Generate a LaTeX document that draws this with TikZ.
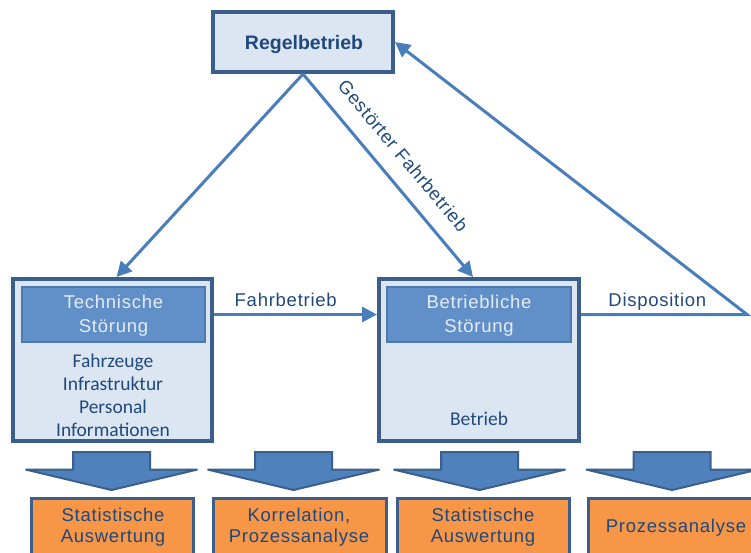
\documentclass[tikz,border=0pt]{standalone}
\usepackage{fontspec}
\setmainfont{Liberation Sans}
\newfontfamily\spacedfont[LetterSpace=4]{Liberation Sans}
\newfontfamily\listfont{Carlito}
\usetikzlibrary{arrows.meta}

\definecolor{panel}{HTML}{DCE6F2}
\definecolor{frame}{HTML}{3A5F8C}
\definecolor{ink}{HTML}{1F497D}
\definecolor{innerfill}{HTML}{6190C8}
\definecolor{innerframe}{HTML}{4D79AE}
\definecolor{innertext}{HTML}{E4ECF6}
\definecolor{flow}{HTML}{4A7EBB}
\definecolor{bigarrow}{HTML}{4F81BD}
\definecolor{result}{HTML}{F79646}

\begin{document}
\begin{tikzpicture}[x=1pt,y=-1pt,
  outerbox/.style={draw=frame, line width=4pt, fill=panel, inner sep=0pt},
  innerbox/.style={draw=innerframe, line width=2pt, fill=innerfill, inner sep=0pt},
  resultbox/.style={draw=frame, line width=3pt, fill=result, inner sep=0pt},
  flowline/.style={draw=flow, line width=3pt, line join=miter,
    -{Triangle[length=15pt,width=15pt]}},
  blockarrow/.style={fill=bigarrow, draw=frame, line width=2pt,
    line join=miter, miter limit=2.5},
  label/.style={text=ink, inner sep=0pt, font=\spacedfont\fontsize{18.5}{24}\selectfont},
  headtext/.style={text=innertext, inner sep=0pt, align=center,
    font=\spacedfont\fontsize{18.5}{24}\selectfont},
  listtext/.style={text=ink, inner sep=0pt, align=center,
    font=\listfont\fontsize{19.5}{23}\selectfont},
  resulttext/.style={text=ink, inner sep=0pt, align=center,
    font=\spacedfont\fontsize{18.5}{21}\selectfont}
]
\useasboundingbox (0,0) rectangle (751,552);
\clip (0,0) rectangle (751,552);

% top state
\node[outerbox, minimum width=180pt, minimum height=60pt] (regel) at (303,42) {};
\node[text=ink, inner sep=0pt, anchor=base, font=\bfseries\fontsize{19.5}{22}\selectfont]
  (regeltext) at (304,49.5) {Regelbetrieb};

% technical disturbance
\node[outerbox, minimum width=199pt, minimum height=162pt] (tech) at (112.5,360) {};
\node[innerbox, minimum width=183pt, minimum height=55pt] (techhead) at (113.5,314.5) {};
\node[headtext] (techheadtext) at (113.5,316) {Technische\\Störung};
\node[listtext] (techlist) at (113,395) {Fahrzeuge\\Infrastruktur\\Personal\\Informationen};

% operational disturbance
\node[outerbox, minimum width=200pt, minimum height=162pt] (betr) at (479,360) {};
\node[innerbox, minimum width=184pt, minimum height=55pt] (betrhead) at (479,314.5) {};
\node[headtext] (betrheadtext) at (479,316) {Betriebliche\\Störung};
\node[listtext, anchor=base] (betrlist) at (479,425) {Betrieb};

% transitions
\draw[flowline] (regel.south) -- ([xshift=4pt]tech.north);
\draw[flowline] (regel.south) -- ([xshift=-6pt]betr.north)
  node[label, pos=0.48, sloped, above=16pt] (gestoert) {Gestörter Fahrbetrieb};
\draw[flowline] (techhead.east -| tech.east) -- (betrhead.west -| betr.west)
  node[label, pos=0.44, anchor=base, yshift=8pt] (fahr) {Fahrbetrieb};
\coordinate (corner) at (747,314.5);
\draw[flowline] (betrhead.east -| betr.east) -- (corner)
  node[label, pos=0.46, anchor=base, yshift=8pt] (dispo) {Disposition}
  -- (regel.east);

% block arrows towards the analyses
\foreach \cx in {111.5,293.5,479.5,672}{
  \filldraw[blockarrow]
    (\cx-38.5,452) -- (\cx+38.5,452) -- (\cx+38.5,469.5) -- (\cx+86,469.5)
    -- (\cx,490) -- (\cx-86,469.5) -- (\cx-38.5,469.5) -- cycle;
}

% analyses
\node[resultbox, minimum width=162pt, minimum height=70pt] (res1) at (112.5,533.5) {};
\node[resultbox, minimum width=173pt, minimum height=70pt] (res2) at (300,533.5) {};
\node[resultbox, minimum width=172pt, minimum height=70pt] (res3) at (483.5,533.5) {};
\node[resultbox, minimum width=169pt, minimum height=70pt] (res4) at (673,533.5) {};
\node[resulttext] (res1text) at (113,527.7) {Statistische\\Auswertung};
\node[resulttext] (res2text) at (299,527.7) {Korrelation,\\Prozessanalyse};
\node[resulttext] (res3text) at (483,527.7) {Statistische\\Auswertung};
\node[resulttext, anchor=base] (res4text) at (676,532) {Prozessanalyse};
\end{tikzpicture}
\end{document}
